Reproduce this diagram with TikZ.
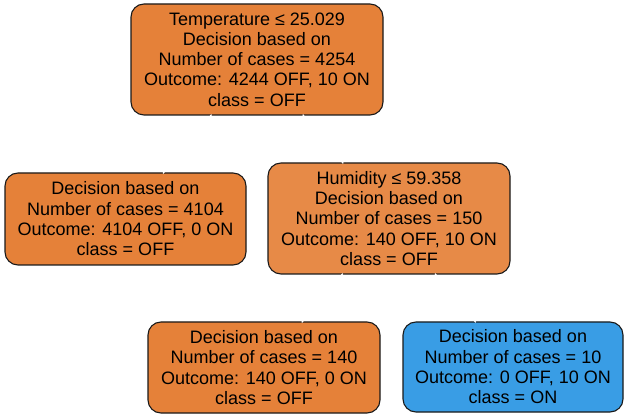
\documentclass[tikz,border=0pt]{standalone}
\usepackage{fontspec}
\setmainfont{Liberation Sans}
\definecolor{offfull}{HTML}{E58139}
\definecolor{offlight}{HTML}{E78A47}
\definecolor{onfull}{HTML}{399DE5}
\definecolor{borderc}{HTML}{1A1A1A}
\begin{document}
\begin{tikzpicture}[x=1pt,y=-1pt,
  treenode/.style={draw=borderc, line width=1.1pt, rounded corners=13pt,
    align=center, inner sep=0pt, font=\fontsize{18}{20.3}\selectfont},
  edgeline/.style={draw=white, line width=1.2pt, shorten <=-1.2pt, shorten >=-1.2pt}]
\useasboundingbox (0,0) rectangle (629,419);
\node[treenode, fill=offfull, minimum width=252pt, minimum height=111pt] (root) at (257,59.5)
  {Temperature ≤ 25.029\\Decision based on\\Number of cases = 4254\\Outcome: 4244 OFF, 10 ON\\class = OFF};
\node[treenode, fill=offfull, minimum width=241pt, minimum height=92pt] (left) at (125.5,219)
  {Decision based on\\Number of cases = 4104\\Outcome: 4104 OFF, 0 ON\\class = OFF};
\node[treenode, fill=offlight, minimum width=242pt, minimum height=111pt] (hum) at (389,218.5)
  {Humidity ≤ 59.358\\Decision based on\\Number of cases = 150\\Outcome: 140 OFF, 10 ON\\class = OFF};
\node[treenode, fill=offfull, minimum width=232pt, minimum height=91pt] (bl) at (264,367.5)
  {Decision based on\\Number of cases = 140\\Outcome: 140 OFF, 0 ON\\class = OFF};
\node[treenode, fill=onfull, minimum width=220pt, minimum height=90pt] (br) at (513,367)
  {Decision based on\\Number of cases = 10\\Outcome: 0 OFF, 10 ON\\class = ON};
\draw[edgeline] (root) -- (left);
\draw[edgeline] (root) -- (hum);
\draw[edgeline] (hum) -- (bl);
\draw[edgeline] (hum) -- (br);
\end{tikzpicture}
\end{document}
